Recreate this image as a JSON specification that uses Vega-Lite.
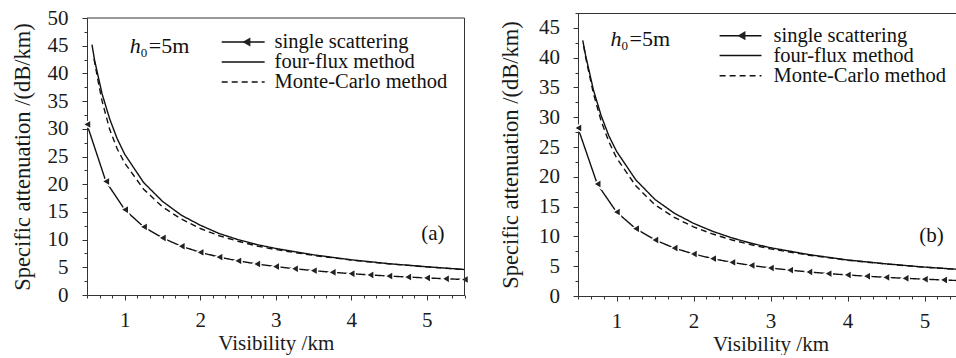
{
  "$schema": "https://vega.github.io/schema/vega-lite/v6.json",
  "padding": {"left": 10, "top": 7, "right": 0, "bottom": 0},
  "spacing": 26,
  "datasets": {
    "one": [{}],
    "curves": [
      {"panel": "a", "method": "single scattering", "v": 0.5, "att": 30.8},
      {"panel": "a", "method": "single scattering", "v": 0.75, "att": 20.5},
      {"panel": "a", "method": "single scattering", "v": 1.0, "att": 15.4},
      {"panel": "a", "method": "single scattering", "v": 1.25, "att": 12.3},
      {"panel": "a", "method": "single scattering", "v": 1.5, "att": 10.3},
      {"panel": "a", "method": "single scattering", "v": 1.75, "att": 8.8},
      {"panel": "a", "method": "single scattering", "v": 2.0, "att": 7.7},
      {"panel": "a", "method": "single scattering", "v": 2.25, "att": 6.84},
      {"panel": "a", "method": "single scattering", "v": 2.5, "att": 6.16},
      {"panel": "a", "method": "single scattering", "v": 2.75, "att": 5.6},
      {"panel": "a", "method": "single scattering", "v": 3.0, "att": 5.13},
      {"panel": "a", "method": "single scattering", "v": 3.25, "att": 4.74},
      {"panel": "a", "method": "single scattering", "v": 3.5, "att": 4.4},
      {"panel": "a", "method": "single scattering", "v": 3.75, "att": 4.1},
      {"panel": "a", "method": "single scattering", "v": 4.0, "att": 3.85},
      {"panel": "a", "method": "single scattering", "v": 4.25, "att": 3.62},
      {"panel": "a", "method": "single scattering", "v": 4.5, "att": 3.42},
      {"panel": "a", "method": "single scattering", "v": 4.75, "att": 3.24},
      {"panel": "a", "method": "single scattering", "v": 5.0, "att": 3.08},
      {"panel": "a", "method": "single scattering", "v": 5.25, "att": 2.93},
      {"panel": "a", "method": "single scattering", "v": 5.5, "att": 2.8},
      {"panel": "a", "method": "four-flux", "v": 0.566, "att": 45.2},
      {"panel": "a", "method": "four-flux", "v": 0.6, "att": 42.4},
      {"panel": "a", "method": "four-flux", "v": 0.7, "att": 36.3},
      {"panel": "a", "method": "four-flux", "v": 0.8, "att": 31.8},
      {"panel": "a", "method": "four-flux", "v": 0.9, "att": 28.2},
      {"panel": "a", "method": "four-flux", "v": 1.0, "att": 25.4},
      {"panel": "a", "method": "four-flux", "v": 1.25, "att": 20.3},
      {"panel": "a", "method": "four-flux", "v": 1.5, "att": 16.9},
      {"panel": "a", "method": "four-flux", "v": 1.75, "att": 14.4},
      {"panel": "a", "method": "four-flux", "v": 2.0, "att": 12.6},
      {"panel": "a", "method": "four-flux", "v": 2.25, "att": 11.1},
      {"panel": "a", "method": "four-flux", "v": 2.5, "att": 10.0},
      {"panel": "a", "method": "four-flux", "v": 2.75, "att": 9.1},
      {"panel": "a", "method": "four-flux", "v": 3.0, "att": 8.4},
      {"panel": "a", "method": "four-flux", "v": 3.5, "att": 7.25},
      {"panel": "a", "method": "four-flux", "v": 4.0, "att": 6.35},
      {"panel": "a", "method": "four-flux", "v": 4.5, "att": 5.65},
      {"panel": "a", "method": "four-flux", "v": 5.0, "att": 5.1},
      {"panel": "a", "method": "four-flux", "v": 5.5, "att": 4.6},
      {"panel": "a", "method": "Monte-Carlo", "v": 0.593, "att": 42.6},
      {"panel": "a", "method": "Monte-Carlo", "v": 0.65, "att": 38.4},
      {"panel": "a", "method": "Monte-Carlo", "v": 0.7, "att": 35.0},
      {"panel": "a", "method": "Monte-Carlo", "v": 0.8, "att": 29.9},
      {"panel": "a", "method": "Monte-Carlo", "v": 0.9, "att": 26.4},
      {"panel": "a", "method": "Monte-Carlo", "v": 1.0, "att": 23.8},
      {"panel": "a", "method": "Monte-Carlo", "v": 1.25, "att": 19.1},
      {"panel": "a", "method": "Monte-Carlo", "v": 1.5, "att": 15.9},
      {"panel": "a", "method": "Monte-Carlo", "v": 1.75, "att": 13.7},
      {"panel": "a", "method": "Monte-Carlo", "v": 2.0, "att": 12.0},
      {"panel": "a", "method": "Monte-Carlo", "v": 2.25, "att": 10.7},
      {"panel": "a", "method": "Monte-Carlo", "v": 2.5, "att": 9.7},
      {"panel": "a", "method": "Monte-Carlo", "v": 2.75, "att": 8.85},
      {"panel": "a", "method": "Monte-Carlo", "v": 3.0, "att": 8.2},
      {"panel": "a", "method": "Monte-Carlo", "v": 3.5, "att": 7.15},
      {"panel": "a", "method": "Monte-Carlo", "v": 4.0, "att": 6.3},
      {"panel": "a", "method": "Monte-Carlo", "v": 4.5, "att": 5.62},
      {"panel": "a", "method": "Monte-Carlo", "v": 5.0, "att": 5.08},
      {"panel": "a", "method": "Monte-Carlo", "v": 5.5, "att": 4.58},
      {"panel": "b", "method": "single scattering", "v": 0.5, "att": 28.2},
      {"panel": "b", "method": "single scattering", "v": 0.75, "att": 18.8},
      {"panel": "b", "method": "single scattering", "v": 1.0, "att": 14.1},
      {"panel": "b", "method": "single scattering", "v": 1.25, "att": 11.3},
      {"panel": "b", "method": "single scattering", "v": 1.5, "att": 9.4},
      {"panel": "b", "method": "single scattering", "v": 1.75, "att": 8.05},
      {"panel": "b", "method": "single scattering", "v": 2.0, "att": 7.05},
      {"panel": "b", "method": "single scattering", "v": 2.25, "att": 6.27},
      {"panel": "b", "method": "single scattering", "v": 2.5, "att": 5.64},
      {"panel": "b", "method": "single scattering", "v": 2.75, "att": 5.13},
      {"panel": "b", "method": "single scattering", "v": 3.0, "att": 4.7},
      {"panel": "b", "method": "single scattering", "v": 3.25, "att": 4.34},
      {"panel": "b", "method": "single scattering", "v": 3.5, "att": 4.03},
      {"panel": "b", "method": "single scattering", "v": 3.75, "att": 3.76},
      {"panel": "b", "method": "single scattering", "v": 4.0, "att": 3.53},
      {"panel": "b", "method": "single scattering", "v": 4.25, "att": 3.32},
      {"panel": "b", "method": "single scattering", "v": 4.5, "att": 3.13},
      {"panel": "b", "method": "single scattering", "v": 4.75, "att": 2.97},
      {"panel": "b", "method": "single scattering", "v": 5.0, "att": 2.82},
      {"panel": "b", "method": "single scattering", "v": 5.25, "att": 2.69},
      {"panel": "b", "method": "single scattering", "v": 5.5, "att": 2.56},
      {"panel": "b", "method": "four-flux", "v": 0.562, "att": 42.9},
      {"panel": "b", "method": "four-flux", "v": 0.6, "att": 40.3},
      {"panel": "b", "method": "four-flux", "v": 0.7, "att": 34.6},
      {"panel": "b", "method": "four-flux", "v": 0.8, "att": 30.3},
      {"panel": "b", "method": "four-flux", "v": 0.9, "att": 26.9},
      {"panel": "b", "method": "four-flux", "v": 1.0, "att": 24.3},
      {"panel": "b", "method": "four-flux", "v": 1.25, "att": 19.5},
      {"panel": "b", "method": "four-flux", "v": 1.5, "att": 16.2},
      {"panel": "b", "method": "four-flux", "v": 1.75, "att": 13.9},
      {"panel": "b", "method": "four-flux", "v": 2.0, "att": 12.2},
      {"panel": "b", "method": "four-flux", "v": 2.25, "att": 10.85},
      {"panel": "b", "method": "four-flux", "v": 2.5, "att": 9.75},
      {"panel": "b", "method": "four-flux", "v": 2.75, "att": 8.85},
      {"panel": "b", "method": "four-flux", "v": 3.0, "att": 8.1},
      {"panel": "b", "method": "four-flux", "v": 3.5, "att": 6.95},
      {"panel": "b", "method": "four-flux", "v": 4.0, "att": 6.05},
      {"panel": "b", "method": "four-flux", "v": 4.5, "att": 5.4},
      {"panel": "b", "method": "four-flux", "v": 5.0, "att": 4.85},
      {"panel": "b", "method": "four-flux", "v": 5.5, "att": 4.42},
      {"panel": "b", "method": "Monte-Carlo", "v": 0.575, "att": 41.9},
      {"panel": "b", "method": "Monte-Carlo", "v": 0.6, "att": 40.0},
      {"panel": "b", "method": "Monte-Carlo", "v": 0.7, "att": 34.0},
      {"panel": "b", "method": "Monte-Carlo", "v": 0.8, "att": 29.4},
      {"panel": "b", "method": "Monte-Carlo", "v": 0.9, "att": 25.9},
      {"panel": "b", "method": "Monte-Carlo", "v": 1.0, "att": 23.2},
      {"panel": "b", "method": "Monte-Carlo", "v": 1.25, "att": 18.5},
      {"panel": "b", "method": "Monte-Carlo", "v": 1.5, "att": 15.3},
      {"panel": "b", "method": "Monte-Carlo", "v": 1.75, "att": 13.2},
      {"panel": "b", "method": "Monte-Carlo", "v": 2.0, "att": 11.6},
      {"panel": "b", "method": "Monte-Carlo", "v": 2.25, "att": 10.4},
      {"panel": "b", "method": "Monte-Carlo", "v": 2.5, "att": 9.4},
      {"panel": "b", "method": "Monte-Carlo", "v": 2.75, "att": 8.6},
      {"panel": "b", "method": "Monte-Carlo", "v": 3.0, "att": 7.9},
      {"panel": "b", "method": "Monte-Carlo", "v": 3.5, "att": 6.85},
      {"panel": "b", "method": "Monte-Carlo", "v": 4.0, "att": 6.0},
      {"panel": "b", "method": "Monte-Carlo", "v": 4.5, "att": 5.37},
      {"panel": "b", "method": "Monte-Carlo", "v": 5.0, "att": 4.83},
      {"panel": "b", "method": "Monte-Carlo", "v": 5.5, "att": 4.41}
    ]
  },
  "hconcat": [
    {
      "width": 377.5,
      "height": 282,
      "view": {"stroke": null},
      "resolve": {"axis": {"x": "independent", "y": "independent"}},
      "layer": [
        {
          "data": {"name": "curves"},
          "transform": [{"filter": "datum.panel === 'a'"}],
          "mark": {"type": "line", "color": "#111", "strokeWidth": 1.4, "clip": true},
          "encoding": {
            "x": {"field": "v", "type": "quantitative", "scale": {"domain": [0.5, 5.5], "nice": false, "zero": false},
              "axis": {"orient": "bottom", "title": "Visibility /km", "values": [1, 2, 3, 4, 5], "format": "d", "tickSize": 5, "labelPadding": 9, "titlePadding": 2, "titleFontSize": 21}},
            "y": {"field": "att", "type": "quantitative", "scale": {"domain": [0, 50], "nice": false, "range": [282, 5]},
              "axis": {"orient": "left", "title": "Specific attenuation /(dB/km)", "values": [0, 5, 10, 15, 20, 25, 30, 35, 40, 45, 50], "format": "d", "tickSize": 5, "labelPadding": 14, "titlePadding": 13, "titleFontSize": 22.5}},
            "detail": {"field": "method"},
            "strokeDash": {"field": "method", "scale": {"domain": ["single scattering", "four-flux", "Monte-Carlo"], "range": [[1, 0], [1, 0], [6, 4]]}, "legend": null}
          }
        },
        {
          "data": {"name": "curves"},
          "transform": [{"filter": "datum.panel === 'a' && datum.method === 'single scattering'"}],
          "mark": {"type": "point", "shape": "triangle-left", "filled": true, "fill": "#222", "stroke": "white", "strokeWidth": 1.5, "size": 85, "opacity": 1},
          "encoding": {
            "x": {"field": "v", "type": "quantitative",
              "axis": {"orient": "bottom", "title": null, "labels": false, "domain": false, "tickSize": 3, "values": [0.5,0.6667,0.8333,1.1667,1.3333,1.5,1.6667,1.8333,2.1667,2.3333,2.5,2.6667,2.8333,3.1667,3.3333,3.5,3.6667,3.8333,4.1667,4.3333,4.5,4.6667,4.8333,5.1667,5.3333,5.5]}},
            "y": {"field": "att", "type": "quantitative",
              "axis": {"orient": "left", "title": null, "labels": false, "domain": false, "tickSize": 3, "values": [2.5,7.5,12.5,17.5,22.5,27.5,32.5,37.5,42.5,47.5]}}
          }
        },
        {
          "data": {"name": "one"},
          "mark": {"type": "rule", "color": "#333", "strokeWidth": 1},
          "encoding": {"x": {"datum": 0.5, "type": "quantitative", "axis": null}, "x2": {"datum": 5.5}, "y": {"datum": 50, "type": "quantitative", "axis": null}}
        },
        {
          "data": {"name": "one"},
          "mark": {"type": "rule", "color": "#333", "strokeWidth": 1},
          "encoding": {"x": {"datum": 5.5, "type": "quantitative", "axis": null}, "y": {"datum": 0, "type": "quantitative", "axis": null}, "y2": {"datum": 50}}
        },
        {
          "data": {"name": "one"},
          "mark": {"type": "rule", "color": "#111", "strokeWidth": 1.5},
          "encoding": {"x": {"datum": 2.284, "type": "quantitative", "axis": null}, "x2": {"datum": 2.853}, "y": {"datum": 45.67, "type": "quantitative", "axis": null}}
        },
        {
          "data": {"name": "one"},
          "mark": {"type": "point", "shape": "triangle-left", "filled": true, "fill": "#222", "size": 85, "opacity": 1},
          "encoding": {"x": {"datum": 2.611, "type": "quantitative", "axis": null}, "y": {"datum": 45.67, "type": "quantitative", "axis": null}}
        },
        {
          "data": {"name": "one"},
          "mark": {"type": "rule", "color": "#111", "strokeWidth": 1.5},
          "encoding": {"x": {"datum": 2.284, "type": "quantitative", "axis": null}, "x2": {"datum": 2.853}, "y": {"datum": 42.06, "type": "quantitative", "axis": null}}
        },
        {
          "data": {"name": "one"},
          "mark": {"type": "rule", "color": "#111", "strokeWidth": 1.5, "strokeDash": [6, 4]},
          "encoding": {"x": {"datum": 2.284, "type": "quantitative", "axis": null}, "x2": {"datum": 2.853}, "y": {"datum": 38.45, "type": "quantitative", "axis": null}}
        },
        {
          "data": {"name": "one"},
          "mark": {"type": "text", "align": "left", "baseline": "middle", "font": "Liberation Serif", "fontSize": 20.5, "color": "#111"},
          "encoding": {"x": {"datum": 2.985, "type": "quantitative", "axis": null}, "y": {"datum": 45.67, "type": "quantitative", "axis": null}, "text": {"value": "single scattering"}}
        },
        {
          "data": {"name": "one"},
          "mark": {"type": "text", "align": "left", "baseline": "middle", "font": "Liberation Serif", "fontSize": 20.5, "color": "#111"},
          "encoding": {"x": {"datum": 2.985, "type": "quantitative", "axis": null}, "y": {"datum": 42.06, "type": "quantitative", "axis": null}, "text": {"value": "four-flux method"}}
        },
        {
          "data": {"name": "one"},
          "mark": {"type": "text", "align": "left", "baseline": "middle", "font": "Liberation Serif", "fontSize": 20.5, "color": "#111"},
          "encoding": {"x": {"datum": 2.985, "type": "quantitative", "axis": null}, "y": {"datum": 38.45, "type": "quantitative", "axis": null}, "text": {"value": "Monte-Carlo method"}}
        },
        {
          "data": {"name": "one"},
          "mark": {"type": "text", "align": "left", "baseline": "alphabetic", "font": "Liberation Serif", "fontSize": 22, "fontStyle": "italic", "color": "#111"},
          "encoding": {"x": {"datum": 1.066, "type": "quantitative", "axis": null}, "y": {"datum": 43.74, "type": "quantitative", "axis": null}, "text": {"value": "h"}}
        },
        {
          "data": {"name": "one"},
          "mark": {"type": "text", "align": "left", "baseline": "alphabetic", "font": "Liberation Serif", "fontSize": 13, "dx": 11, "dy": 4, "color": "#111"},
          "encoding": {"x": {"datum": 1.066, "type": "quantitative", "axis": null}, "y": {"datum": 43.74, "type": "quantitative", "axis": null}, "text": {"value": "0"}}
        },
        {
          "data": {"name": "one"},
          "mark": {"type": "text", "align": "left", "baseline": "alphabetic", "font": "Liberation Serif", "fontSize": 22, "dx": 19, "color": "#111"},
          "encoding": {"x": {"datum": 1.066, "type": "quantitative", "axis": null}, "y": {"datum": 43.74, "type": "quantitative", "axis": null}, "text": {"value": "=5m"}}
        },
        {
          "data": {"name": "one"},
          "mark": {"type": "text", "align": "center", "baseline": "middle", "font": "Liberation Serif", "fontSize": 21, "color": "#111"},
          "encoding": {"x": {"datum": 5.08, "type": "quantitative", "axis": null}, "y": {"datum": 10.95, "type": "quantitative", "axis": null}, "text": {"value": "(a)"}}
        }
      ]
    },
    {
      "width": 385,
      "height": 283,
      "resolve": {"axis": {"x": "independent", "y": "independent"}},
      "layer": [
        {
          "data": {"name": "curves"},
          "transform": [{"filter": "datum.panel === 'b'"}],
          "mark": {"type": "line", "color": "#111", "strokeWidth": 1.4, "clip": true},
          "encoding": {
            "x": {"field": "v", "type": "quantitative", "scale": {"domain": [0.5, 5.5], "nice": false, "zero": false},
              "axis": {"orient": "bottom", "title": "Visibility /km", "values": [1, 2, 3, 4, 5], "format": "d", "tickSize": 5, "labelPadding": 9, "titlePadding": 2, "titleFontSize": 21}},
            "y": {"field": "att", "type": "quantitative", "scale": {"domain": [0, 47.5], "nice": false},
              "axis": {"orient": "left", "title": "Specific attenuation /(dB/km)", "values": [0, 5, 10, 15, 20, 25, 30, 35, 40, 45], "format": "d", "tickSize": 5, "labelPadding": 13.5, "titlePadding": 16.5, "titleFontSize": 22.5}},
            "detail": {"field": "method"},
            "strokeDash": {"field": "method", "scale": {"domain": ["single scattering", "four-flux", "Monte-Carlo"], "range": [[1, 0], [1, 0], [6, 4]]}, "legend": null}
          }
        },
        {
          "data": {"name": "curves"},
          "transform": [{"filter": "datum.panel === 'b' && datum.method === 'single scattering'"}],
          "mark": {"type": "point", "shape": "triangle-left", "filled": true, "fill": "#222", "stroke": "white", "strokeWidth": 1.5, "size": 85, "opacity": 1},
          "encoding": {
            "x": {"field": "v", "type": "quantitative",
              "axis": {"orient": "bottom", "title": null, "labels": false, "domain": false, "tickSize": 3, "values": [0.5,0.6667,0.8333,1.1667,1.3333,1.5,1.6667,1.8333,2.1667,2.3333,2.5,2.6667,2.8333,3.1667,3.3333,3.5,3.6667,3.8333,4.1667,4.3333,4.5,4.6667,4.8333,5.1667,5.3333,5.5]}},
            "y": {"field": "att", "type": "quantitative",
              "axis": {"orient": "left", "title": null, "labels": false, "domain": false, "tickSize": 3, "values": [2.5,7.5,12.5,17.5,22.5,27.5,32.5,37.5,42.5,47.5]}}
          }
        },
        {
          "data": {"name": "one"},
          "mark": {"type": "rule", "color": "#111", "strokeWidth": 1.5},
          "encoding": {"x": {"datum": 2.339, "type": "quantitative", "axis": null}, "x2": {"datum": 2.883}, "y": {"datum": 43.69, "type": "quantitative", "axis": null}}
        },
        {
          "data": {"name": "one"},
          "mark": {"type": "point", "shape": "triangle-left", "filled": true, "fill": "#222", "size": 85, "opacity": 1},
          "encoding": {"x": {"datum": 2.623, "type": "quantitative", "axis": null}, "y": {"datum": 43.69, "type": "quantitative", "axis": null}}
        },
        {
          "data": {"name": "one"},
          "mark": {"type": "rule", "color": "#111", "strokeWidth": 1.5},
          "encoding": {"x": {"datum": 2.339, "type": "quantitative", "axis": null}, "x2": {"datum": 2.883}, "y": {"datum": 40.35, "type": "quantitative", "axis": null}}
        },
        {
          "data": {"name": "one"},
          "mark": {"type": "rule", "color": "#111", "strokeWidth": 1.5, "strokeDash": [6, 4]},
          "encoding": {"x": {"datum": 2.339, "type": "quantitative", "axis": null}, "x2": {"datum": 2.883}, "y": {"datum": 36.98, "type": "quantitative", "axis": null}}
        },
        {
          "data": {"name": "one"},
          "mark": {"type": "text", "align": "left", "baseline": "middle", "font": "Liberation Serif", "fontSize": 20.5, "color": "#111"},
          "encoding": {"x": {"datum": 3.039, "type": "quantitative", "axis": null}, "y": {"datum": 43.69, "type": "quantitative", "axis": null}, "text": {"value": "single scattering"}}
        },
        {
          "data": {"name": "one"},
          "mark": {"type": "text", "align": "left", "baseline": "middle", "font": "Liberation Serif", "fontSize": 20.5, "color": "#111"},
          "encoding": {"x": {"datum": 3.039, "type": "quantitative", "axis": null}, "y": {"datum": 40.35, "type": "quantitative", "axis": null}, "text": {"value": "four-flux method"}}
        },
        {
          "data": {"name": "one"},
          "mark": {"type": "text", "align": "left", "baseline": "middle", "font": "Liberation Serif", "fontSize": 20.5, "color": "#111"},
          "encoding": {"x": {"datum": 3.039, "type": "quantitative", "axis": null}, "y": {"datum": 36.98, "type": "quantitative", "axis": null}, "text": {"value": "Monte-Carlo method"}}
        },
        {
          "data": {"name": "one"},
          "mark": {"type": "text", "align": "left", "baseline": "alphabetic", "font": "Liberation Serif", "fontSize": 22, "fontStyle": "italic", "color": "#111"},
          "encoding": {"x": {"datum": 0.922, "type": "quantitative", "axis": null}, "y": {"datum": 42.04, "type": "quantitative", "axis": null}, "text": {"value": "h"}}
        },
        {
          "data": {"name": "one"},
          "mark": {"type": "text", "align": "left", "baseline": "alphabetic", "font": "Liberation Serif", "fontSize": 13, "dx": 11, "dy": 4, "color": "#111"},
          "encoding": {"x": {"datum": 0.922, "type": "quantitative", "axis": null}, "y": {"datum": 42.04, "type": "quantitative", "axis": null}, "text": {"value": "0"}}
        },
        {
          "data": {"name": "one"},
          "mark": {"type": "text", "align": "left", "baseline": "alphabetic", "font": "Liberation Serif", "fontSize": 22, "dx": 19, "color": "#111"},
          "encoding": {"x": {"datum": 0.922, "type": "quantitative", "axis": null}, "y": {"datum": 42.04, "type": "quantitative", "axis": null}, "text": {"value": "=5m"}}
        },
        {
          "data": {"name": "one"},
          "mark": {"type": "text", "align": "center", "baseline": "middle", "font": "Liberation Serif", "fontSize": 21, "color": "#111"},
          "encoding": {"x": {"datum": 5.09, "type": "quantitative", "axis": null}, "y": {"datum": 10.05, "type": "quantitative", "axis": null}, "text": {"value": "(b)"}}
        }
      ]
    }
  ],
  "config": {
    "view": {"stroke": "#333", "strokeWidth": 1},
    "axis": {
      "labelFont": "Liberation Serif", "titleFont": "Liberation Serif",
      "labelFontSize": 21, "titleFontSize": 21, "titleFontWeight": "normal",
      "labelColor": "#1a1a1a", "titleColor": "#1a1a1a",
      "domainColor": "#333", "tickColor": "#333", "domainWidth": 1, "tickWidth": 1,
      "grid": false, "labelOverlap": false, "labelBound": false, "labelFlush": false
    }
  }
}
